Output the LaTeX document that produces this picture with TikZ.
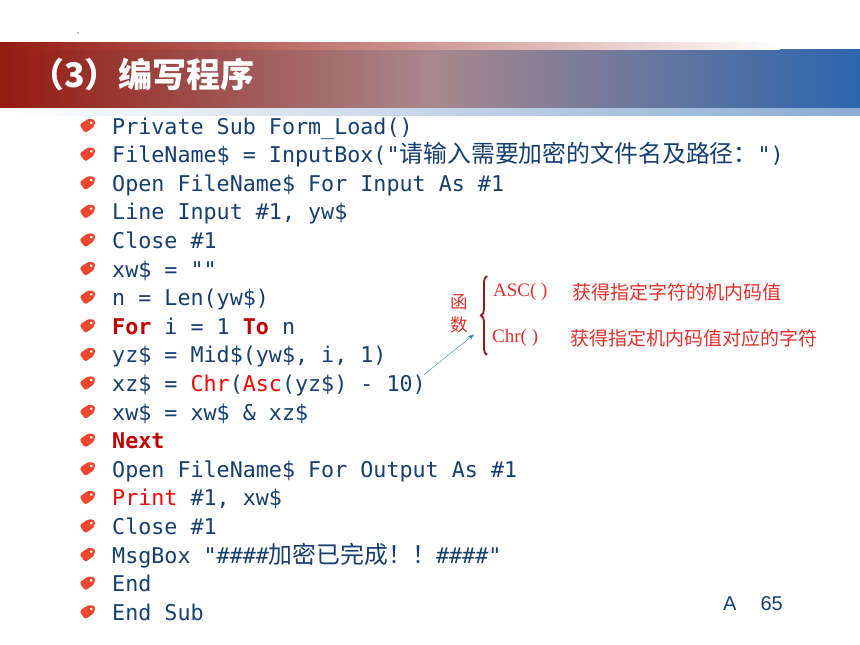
\documentclass[tikz,border=0pt]{standalone}
\usepackage{fontspec}
\setmonofont{DejaVu Sans Mono}
\newfontfamily\cjk{Noto Sans CJK SC}
\newfontfamily\cjkcode[Scale=1.1]{Noto Sans CJK SC}
\newfontfamily\annserif{Liberation Serif}
\newfontfamily\pagefont{Liberation Sans}
\usetikzlibrary{arrows.meta, positioning, decorations.pathreplacing}

\definecolor{bandred}{HTML}{951A10}
\definecolor{bandmid}{HTML}{A8888C}
\definecolor{bandblue}{HTML}{2B66AE}
\definecolor{codeblue}{HTML}{163E6E}
\definecolor{kwred}{HTML}{C00000}
\definecolor{fnred}{HTML}{FF0000}
\definecolor{annred}{HTML}{E0302C}
\definecolor{bracered}{HTML}{8B1A1A}
\definecolor{tagred}{HTML}{F0482E}

\newcommand{\kwd}[1]{{\color{kwred}\bfseries #1}}
\newcommand{\fnc}[1]{{\color{fnred}#1}}

\tikzset{
  codeline/.style={anchor=base west, inner sep=0pt, text=codeblue,
    font=\fontsize{21.7}{26}\selectfont\ttfamily},
  anntext/.style={anchor=west, inner sep=0pt, text=annred},
  tagmark/.pic={
    \begin{scope}[rotate=35]
      \fill[tagred, rounded corners=2.5pt] (9,0) -- (4,5) -- (-7,5) -- (-7,-5) -- (4,-5) -- cycle;
      \fill[white] (4,0) circle (1.5);
    \end{scope}
  }
}

\begin{document}
\begin{tikzpicture}[x=1pt, y=-1pt]
  \useasboundingbox (0,0) rectangle (860,645);

  % header band
  \shade[left color=bandred, right color=bandmid] (0,42) rectangle (430,108);
  \shade[left color=bandmid, right color=bandblue] (430,42) rectangle (860.5,108);
  \shade[left color=bandred, middle color=bandred!30!white, right color=white] (0,42) rectangle (780,49);
  \fill[white] (780,42) rectangle (860.5,49);
  \shade[left color=white, right color=bandblue!55!white] (0,108) rectangle (860.5,115);
  \fill[gray] (78,33) circle (0.8);

  \node[anchor=west, text=white, inner sep=0pt, font=\fontsize{34}{34}\selectfont\cjk\bfseries] (title) at (30,75) {（3）编写程序};

  % code lines
  \node[codeline] (l1) at (112,134) {Private Sub Form\_Load()};
  \node[codeline] (l2) at (112,162.6) {FileName\$ = InputBox("{\cjkcode 请输入需要加密的文件名及路径：}")};
  \node[codeline] (l3) at (112,191.2) {Open FileName\$ For Input As \#1};
  \node[codeline] (l4) at (112,219.8) {Line Input \#1, yw\$};
  \node[codeline] (l5) at (112,248.4) {Close \#1};
  \node[codeline] (l6) at (112,277) {xw\$ = ""};
  \node[codeline] (l7) at (112,305.6) {n = Len(yw\$)};
  \node[codeline] (l8) at (112,334.2) {\kwd{For} i = 1 \kwd{To} n};
  \node[codeline] (l9) at (112,362.8) {yz\$ = Mid\$(yw\$, i, 1)};
  \node[codeline] (l10) at (112,391.4) {xz\$ = \fnc{Chr}(\fnc{Asc}(yz\$) - 10)};
  \node[codeline] (l11) at (112,420) {xw\$ = xw\$ \& xz\$};
  \node[codeline] (l12) at (112,448.6) {\kwd{Next}};
  \node[codeline] (l13) at (112,477.2) {Open FileName\$ For Output As \#1};
  \node[codeline] (l14) at (112,505.8) {\fnc{Print} \#1, xw\$};
  \node[codeline] (l15) at (112,534.4) {Close \#1};
  \node[codeline] (l16) at (112,563) {MsgBox "\#\#\#\#{\cjkcode 加密已完成！！}\#\#\#\#"};
  \node[codeline] (l17) at (112,591.6) {End};
  \node[codeline] (l18) at (112,620.2) {End Sub};

  % bullets
  \foreach \i in {1,...,18}
    \pic at (88,{125+28.6*(\i-1)}) {tagmark};

  % function note
  \node[text=annred, inner sep=0pt, align=center, font=\fontsize{17.5}{23}\selectfont\cjk] (fn) at (459,314) {函\\数};
  \draw[bracered, line width=1.8pt, decorate, decoration={brace, amplitude=6pt}] (487,355) -- (487,276);
  \node[anntext, font=\fontsize{19}{19}\selectfont\annserif] (asc) at (493,292) {ASC( )};
  \node[anntext, font=\fontsize{19}{19}\selectfont\cjk] (ascdesc) at (572,292) {获得指定字符的机内码值};
  \node[anntext, font=\fontsize{19}{19}\selectfont\annserif] (chr) at (492,338) {Chr( )};
  \node[anntext, font=\fontsize{19}{19}\selectfont\cjk] (chrdesc) at (570,338) {获得指定机内码值对应的字符};
  \draw[-{Stealth[length=6pt]}, thin, color=bandblue!80!cyan] ([xshift=-2pt]l10.north east) -- ([xshift=6pt, yshift=-1pt]fn.south east);

  % page number
  \node[anchor=west, inner sep=0pt, text=codeblue, font=\fontsize{20}{20}\selectfont\pagefont] (page) at (723,604) {A\hspace{24pt}65};
\end{tikzpicture}
\end{document}
